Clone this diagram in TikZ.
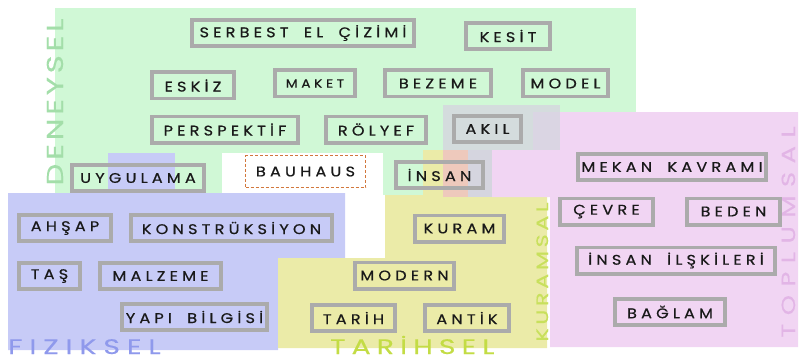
\documentclass[tikz,border=0pt]{standalone}
\usepackage{fontspec}
\setmainfont{Poppins}
\newfontfamily\boxfont[LetterSpace=30, WordSpace=1.8, FakeBold=0.6, FakeStretch=1.15]{Poppins}
\newfontfamily\areafont[FakeStretch=1.35, FakeBold=0.3]{Poppins}
\definecolor{deneyF}{HTML}{D0F8D6}
\definecolor{deneyD}{HTML}{A3DEA9}
\definecolor{fizikF}{HTML}{C7CBF7}
\definecolor{fizikD}{HTML}{8F99EC}
\definecolor{tarihF}{HTML}{EBEBA8}
\definecolor{tarihD}{HTML}{C3DC45}
\definecolor{kuramD}{HTML}{C8E05C}
\definecolor{toplumF}{HTML}{F1D5F3}
\definecolor{toplumD}{HTML}{E2B5E6}
\definecolor{akilF}{HTML}{D5D5DF}
\definecolor{mixF}{HTML}{EEC9BC}
\definecolor{boxD}{HTML}{ABABAB}
\definecolor{bauD}{HTML}{D2773C}
\tikzset{
  box/.style={draw=boxD, line width=3.8pt, inner sep=0pt, minimum height=26.2pt, text=black!90,
              font=\boxfont\fontsize{14}{14}\selectfont},
  sbox/.style={box, font=\boxfont\fontsize{12}{12}\selectfont},
  bau/.style={box, draw=bauD, line width=1.1pt, dash pattern=on 3pt off 2pt, fill=white, minimum height=32pt},
  area/.style={inner sep=0pt},
}

\begin{document}
\begin{tikzpicture}[x=1pt, y=-1pt]
\useasboundingbox (0,0) rectangle (801,361);
% fields
\fill[deneyF] (55,8) rectangle (636,195);
\fill[white] (222,153) rectangle (383,195);
\fill[fizikF] (8,193) -- (345,193) -- (345,258) -- (278,258) -- (278,350) -- (8,350) -- cycle;
\fill[fizikF] (108,153) rectangle (175,193);
\fill[tarihF] (385,195) -- (547,195) -- (547,348) -- (278,348) -- (278,258) -- (385,258) -- cycle;
\fill[toplumF] (533,112) -- (798,112) -- (798,347) -- (550,347) -- (550,197) -- (492,197) -- (492,150) -- (533,150) -- cycle;
\fill[akilF, opacity=0.8] (443,105) rectangle (560,150);
\fill[akilF] (443,150) rectangle (492,197);
\fill[tarihF] (423,150) rectangle (443,197);
\fill[mixF] (443,150) rectangle (468,197);

\node[area, text=deneyD, rotate=90, anchor=base, font=\areafont\fontsize{23}{23}\selectfont\addfontfeature{LetterSpace=16}] (deneysel) at (63,102) {DENEYSEL};
\node[area, text=fizikD, anchor=base west, font=\areafont\fontsize{21}{21}\selectfont\addfontfeature{LetterSpace=33}] (fiziksel) at (8,354) {FIZIKSEL};
\node[area, text=tarihD, anchor=base west, font=\areafont\fontsize{21}{21}\selectfont\addfontfeature{LetterSpace=29}] (tarihsel) at (330,354) {TARİHSEL};
\node[area, text=kuramD, rotate=90, anchor=base, font=\areafont\fontsize{16.5}{16.5}\selectfont\addfontfeature{LetterSpace=22}] (kuramsal) at (548,272) {KURAMSAL};
\node[area, text=toplumD, rotate=90, anchor=base, font=\areafont\fontsize{19}{19}\selectfont\addfontfeature{LetterSpace=45}] (toplumsal) at (795,232) {TOPLUMSAL};

\node[box, minimum width=222.5pt] (serbest) at (303,33) {SERBEST EL ÇİZİMİ};
\node[box, minimum width=84.5pt] (kesit) at (508,36) {KESİT};
\node[box, minimum width=82.5pt] (eskiz) at (193,85.5) {ESKİZ};
\node[sbox, minimum width=80.5pt] (maket) at (315,83.5) {MAKET};
\node[box, minimum width=106.5pt] (bezeme) at (438,83.5) {BEZEME};
\node[box, minimum width=85.5pt] (model) at (565.5,83.5) {MODEL};
\node[box, minimum width=146.5pt] (perspektif) at (225,129.5) {PERSPEKTİF};
\node[box, minimum width=100.5pt] (rolyef) at (376,129.5) {RÖLYEF};
\node[box, minimum width=67.5pt] (akil) at (487.5,129) {AKIL};
\node[box, minimum width=132.5pt] (uygulama) at (138,178) {UYGULAMA};
\node[bau, minimum width=120pt] (bauhaus) at (305.5,171.5) {BAUHAUS};
\node[box, minimum width=87.5pt] (insan) at (439.5,175) {İNSAN};

\node[box, minimum width=188.5pt] (mekan) at (672,167) {MEKAN KAVRAMI};
\node[box, minimum width=93.5pt] (cevre) at (606.5,211.5) {ÇEVRE};
\node[box, minimum width=93.5pt] (beden) at (733.5,211.5) {BEDEN};
\node[box, minimum width=198.5pt] (iliski) at (676,260.5) {İNSAN İLŞKİLERİ};
\node[box, minimum width=110.5pt] (baglam) at (670,312) {BAĞLAM};

\node[box, minimum width=92.5pt] (ahsap) at (65,228) {AHŞAP};
\node[box, minimum width=201.5pt] (konst) at (231.5,228) {KONSTRÜKSİYON};
\node[box, minimum width=61.5pt] (tas) at (49.5,276) {TAŞ};
\node[box, minimum width=121.5pt] (malzeme) at (160.5,276) {MALZEME};
\node[box, minimum width=145.5pt] (yapi) at (194.5,317) {YAPI BİLGİSİ};

\node[box, minimum width=89.5pt] (kuram) at (459.5,228.5) {KURAM};
\node[box, minimum width=99.5pt] (modern) at (404.5,275.5) {MODERN};
\node[box, minimum width=83.5pt] (tarih) at (353.5,318) {TARİH};
\node[box, minimum width=84.5pt] (antik) at (467,318) {ANTİK};
\end{tikzpicture}
\end{document}
